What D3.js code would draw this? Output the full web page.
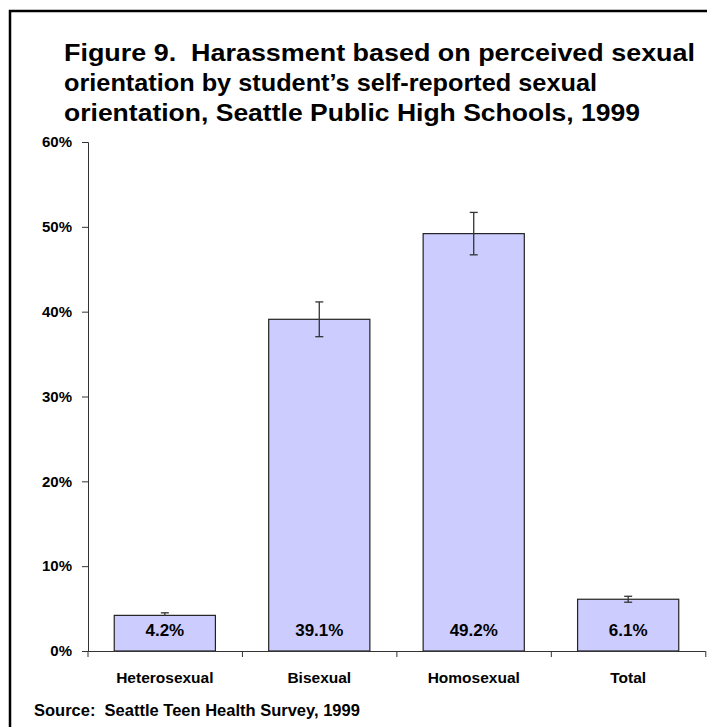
<!DOCTYPE html>
<html>
<head>
<meta charset="utf-8">
<script src="https://cdn.jsdelivr.net/npm/d3@7"></script>
<style>
  body { margin: 0; background: #fff; }
  svg text { font-family: Arial, "Liberation Sans", sans-serif; font-weight: bold; fill: #000; white-space: pre; }
</style>
</head>
<body>
<div id="chart"></div>
<script>
// datos
const categorias = ["Heterosexual", "Bisexual", "Homosexual", "Total"]
const porcentajes = [4.2, 39.1, 49.2, 6.1]
const errores = [0.3, 2.05, 2.5, 0.35]
const etiquetas = ["4.2%", "39.1%", "49.2%", "6.1%"]
const yTicks = [0, 10, 20, 30, 40, 50, 60]
const titulo = [
  "Figure 9.  Harassment based on perceived sexual",
  "orientation by student\u2019s self-reported sexual",
  "orientation, Seattle Public High Schools, 1999"
]
const fuente = "Source:  Seattle Teen Health Survey, 1999"

const ancho = 707, alto = 727
const mIzq = 88, mDer = 705, mSup = 142, mInf = 651

const svg = d3.select("#chart")
  .append("svg")
  .attr("width", ancho)
  .attr("height", alto)

// marco
svg.append("rect")
  .attr("x", 10).attr("y", 11)
  .attr("width", ancho + 10).attr("height", alto + 10)
  .attr("fill", "none")
  .attr("stroke", "#000")
  .attr("stroke-width", 2.5)

// titulo
const anchos = [631, 533, 576]
svg.selectAll("text.titulo")
  .data(titulo)
  .enter().append("text")
  .attr("class", "titulo")
  .attr("x", 64)
  .attr("y", (d, i) => 61 + i * 30)
  .attr("font-size", 24)
  .attr("textLength", (d, i) => anchos[i])
  .attr("lengthAdjust", "spacingAndGlyphs")
  .text(d => d)

// escalas
const x = d3.scaleBand()
  .domain(categorias)
  .range([mIzq, mDer])
  .paddingInner(0.345)
  .paddingOuter(0.17)

const y = d3.scaleLinear()
  .domain([0, 60])
  .range([mInf, mSup])

// eje y
const yAxis = svg.append("g")
  .attr("transform", `translate(${mIzq},0)`)
  .call(d3.axisLeft(y).tickValues(yTicks).tickFormat(d => d + "%").tickSize(6).tickPadding(10))
yAxis.select(".domain").attr("stroke", "#333")
yAxis.selectAll(".tick line").attr("stroke", "#333")
yAxis.selectAll(".tick text")
  .attr("font-size", 15)
  .style("font-family", "Arial, 'Liberation Sans', sans-serif")
  .style("font-weight", "bold")
  .attr("fill", "#000")

// barras
svg.selectAll("rect.barra")
  .data(porcentajes)
  .enter().append("rect")
  .attr("class", "barra")
  .attr("x", (d, i) => x(categorias[i]))
  .attr("y", d => y(d))
  .attr("width", x.bandwidth())
  .attr("height", d => y(0) - y(d))
  .attr("fill", "#ccccff")
  .attr("stroke", "#222")
  .attr("stroke-width", 1.2)

// eje x
const xAxis = svg.append("g")
  .attr("transform", `translate(0,${mInf})`)
  .call(d3.axisBottom(x).tickSize(0).tickPadding(21))
xAxis.select(".domain").attr("stroke", "#333")
xAxis.selectAll(".tick text")
  .attr("font-size", 15.5)
  .style("font-family", "Arial, 'Liberation Sans', sans-serif")
  .style("font-weight", "bold")
  .attr("fill", "#000")

// marcas entre categorias
const limites = d3.range(categorias.length + 1).map(i => mIzq + i * x.step())
svg.selectAll("line.limite")
  .data(limites)
  .enter().append("line")
  .attr("class", "limite")
  .attr("x1", d => d).attr("x2", d => d)
  .attr("y1", mInf).attr("y2", mInf + 6)
  .attr("stroke", "#333")

// barras de error
const err = svg.selectAll("g.error")
  .data(porcentajes)
  .enter().append("g")
  .attr("class", "error")
  .attr("stroke", "#333")
  .attr("stroke-width", 1.3)
err.append("line")
  .attr("x1", (d, i) => x(categorias[i]) + x.bandwidth() / 2)
  .attr("x2", (d, i) => x(categorias[i]) + x.bandwidth() / 2)
  .attr("y1", (d, i) => y(d + errores[i]))
  .attr("y2", (d, i) => y(d - errores[i]))
err.append("line")
  .attr("x1", (d, i) => x(categorias[i]) + x.bandwidth() / 2 - 4)
  .attr("x2", (d, i) => x(categorias[i]) + x.bandwidth() / 2 + 4)
  .attr("y1", (d, i) => y(d + errores[i]))
  .attr("y2", (d, i) => y(d + errores[i]))
err.append("line")
  .attr("x1", (d, i) => x(categorias[i]) + x.bandwidth() / 2 - 4)
  .attr("x2", (d, i) => x(categorias[i]) + x.bandwidth() / 2 + 4)
  .attr("y1", (d, i) => y(d - errores[i]))
  .attr("y2", (d, i) => y(d - errores[i]))

// etiquetas de datos
const etq = svg.selectAll("g.etiqueta")
  .data(etiquetas)
  .enter().append("g")
  .attr("class", "etiqueta")
  .attr("transform", (d, i) => `translate(${x(categorias[i]) + x.bandwidth() / 2},${mInf - 21})`)
etq.append("rect")
  .attr("x", -28).attr("y", -14)
  .attr("width", 56).attr("height", 28)
  .attr("fill", "#ccccff")
etq.append("text")
  .attr("text-anchor", "middle")
  .attr("dy", "0.36em")
  .attr("font-size", 17)
  .text(d => d)

// fuente
svg.append("text")
  .attr("x", 34)
  .attr("y", 716)
  .attr("font-size", 16.5)
  .text(fuente)
</script>
</body>
</html>
